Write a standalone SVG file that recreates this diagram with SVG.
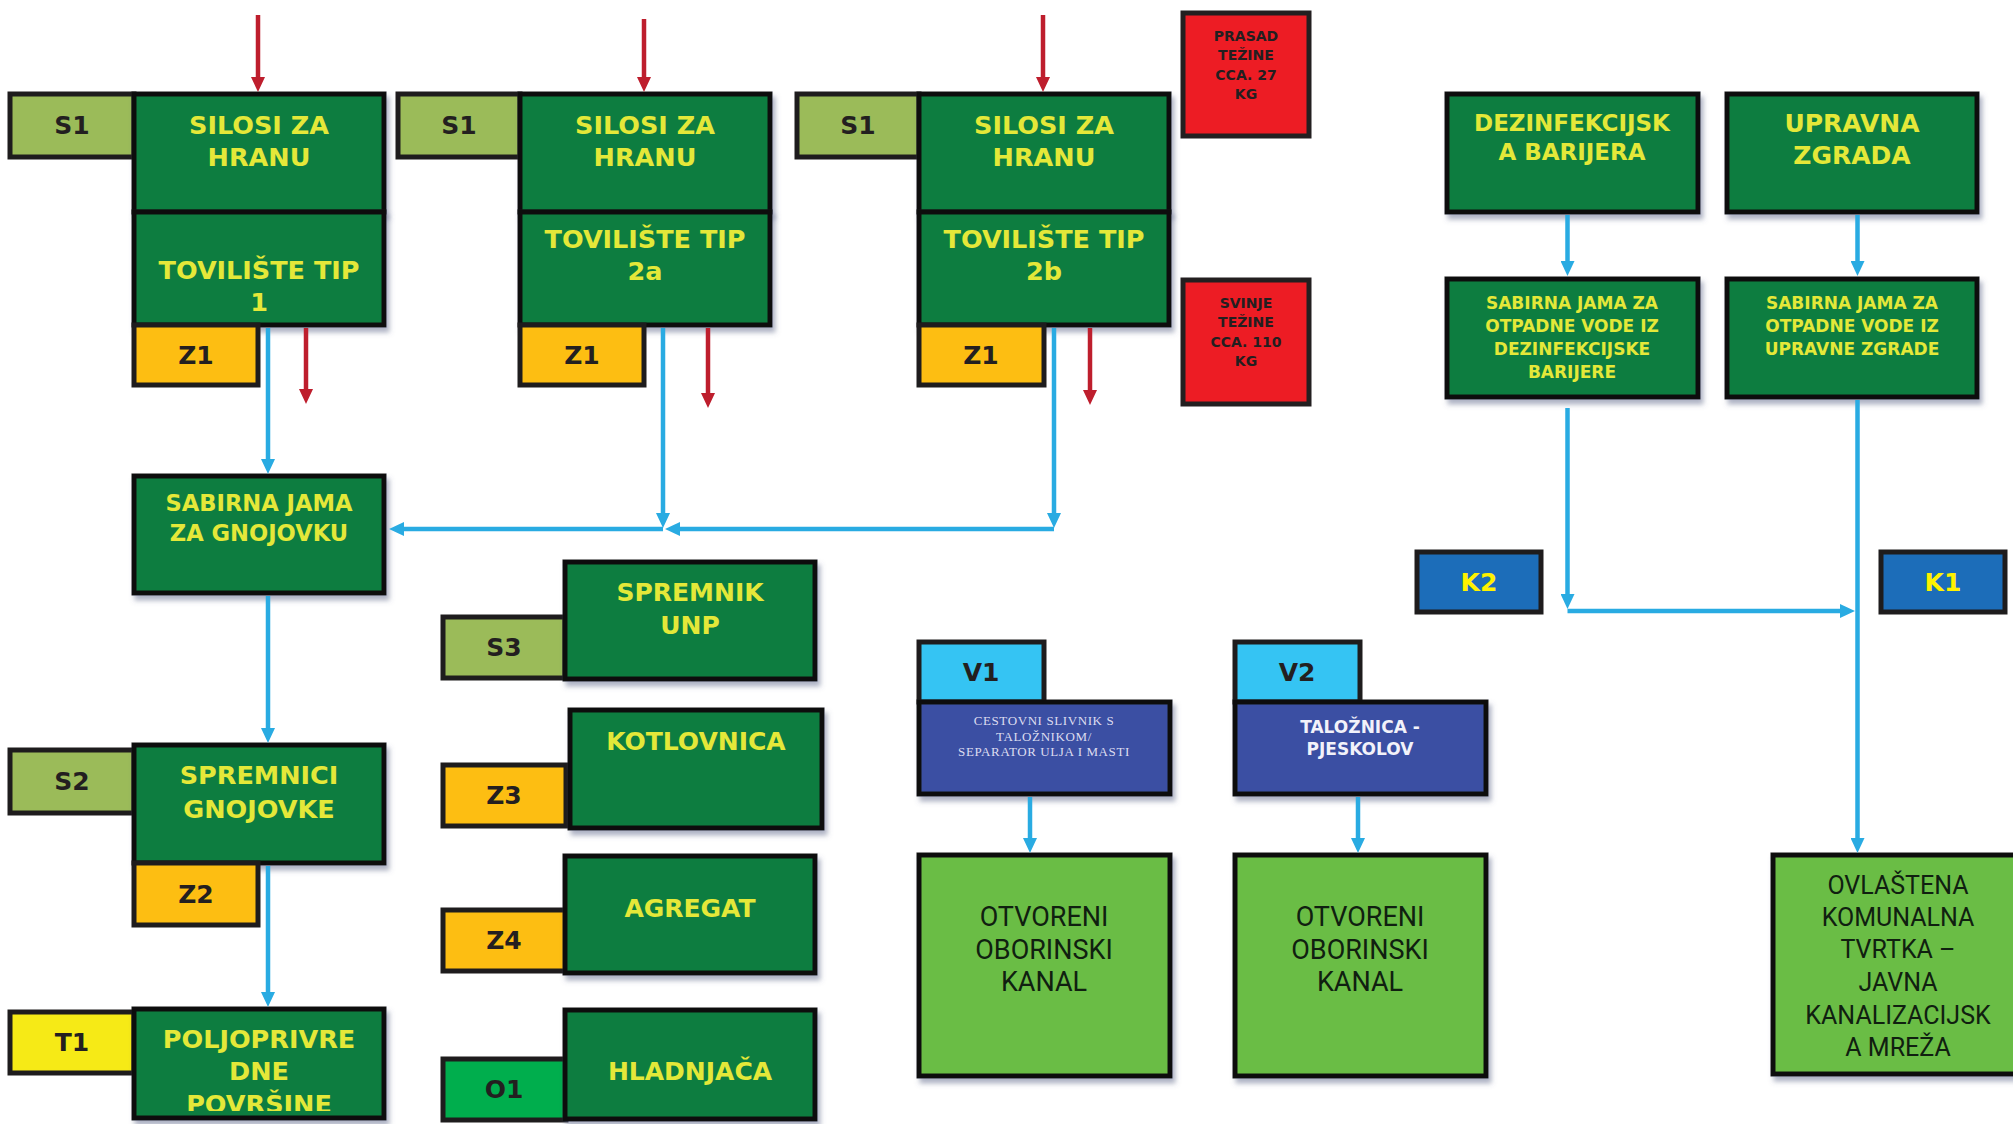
<svg xmlns="http://www.w3.org/2000/svg" width="2013" height="1124" viewBox="0 0 2013 1124">
<defs>
<style>
.g{fill:#0B7D41;stroke:#111;stroke-width:5;filter:url(#sh)}
.lab{stroke:#1E1C1D;stroke-width:5}
.s{fill:#9BBB59}.z{fill:#FDBE12}.ty{fill:#F6EA16}.o{fill:#00AE4D}.v{fill:#35C4F3}.k{fill:#1C6DB9}
.bb{fill:#3A50A3;stroke:#111;stroke-width:5;filter:url(#sh)}
.lgr{fill:#6ABD45;stroke:#111;stroke-width:5;filter:url(#sh)}
.rd{fill:#ED1C24;stroke:#231F20;stroke-width:5}
text{text-anchor:middle}
.t{font-family:"DejaVu Sans",Verdana,sans-serif;font-weight:bold;font-size:25px;fill:#E4E839}
.tb{font-size:25.5px}
.lt{font-family:"DejaVu Sans",Verdana,sans-serif;font-weight:bold;font-size:25px;fill:#231F20}
.kt{font-family:"DejaVu Sans",Verdana,sans-serif;font-weight:bold;font-size:25px;fill:#FFF200}
.rt{font-family:"DejaVu Sans",Verdana,sans-serif;font-weight:bold;font-size:14px;fill:#231F20}
.dt{font-family:Roboto,"Liberation Sans",sans-serif;font-size:27px;fill:#102010}
.wt{font-family:"DejaVu Sans",Verdana,sans-serif;font-weight:bold;font-size:17px;fill:#F2F2FA}
.st{font-family:"Liberation Serif",serif;font-size:13px;fill:#DDDDF0;letter-spacing:0.6px}
.bl{fill:none;stroke:#29ABE2;stroke-width:4.5}
.rl{fill:none;stroke:#BE1E2D;stroke-width:4.5}
</style>
<filter id="sh" x="-5%" y="-5%" width="115%" height="125%">
<feDropShadow dx="3" dy="5" stdDeviation="2.5" flood-color="#5d6689" flood-opacity="0.5"/>
</filter>
<marker id="ab" viewBox="0 0 15 14" refX="6" refY="7" markerWidth="15" markerHeight="14" markerUnits="userSpaceOnUse" orient="auto"><path d="M0,0L15,7L0,14z" fill="#29ABE2"/></marker>
<marker id="ar" viewBox="0 0 15 14" refX="6" refY="7" markerWidth="15" markerHeight="14" markerUnits="userSpaceOnUse" orient="auto"><path d="M0,0L15,7L0,14z" fill="#BE1E2D"/></marker>
<clipPath id="cpP"><rect x="134" y="1009" width="250" height="102"/></clipPath>
</defs>
<rect width="2013" height="1124" fill="#FFFFFF"/>

<!-- Column 1 -->
<g id="s1-a"><rect class="lab s" x="10" y="94" width="124" height="63"/><text class="lt" x="72" y="134">S1</text></g>
<g id="silosi-1"><rect class="g" x="134" y="94" width="250" height="118"/><text class="t tb" x="259" y="134">SILOSI ZA</text><text class="t tb" x="259" y="166">HRANU</text></g>
<g id="toviliste-1"><rect class="g" x="134" y="212" width="250" height="113"/><text class="t tb" x="259" y="279">TOVILIŠTE TIP</text><text class="t tb" x="259" y="311">1</text></g>
<g id="z1-a"><rect class="lab z" x="134" y="325" width="124" height="60"/><text class="lt" x="196" y="364">Z1</text></g>
<g id="sabirna-gnojovka"><rect class="g" x="134" y="476" width="250" height="117"/><text class="t" x="259" y="511" style="font-size:22.6px">SABIRNA JAMA</text><text class="t" x="259" y="541" style="font-size:22.6px">ZA GNOJOVKU</text></g>
<g id="s2"><rect class="lab s" x="10" y="750" width="124" height="63"/><text class="lt" x="72" y="790">S2</text></g>
<g id="spremnici"><rect class="g" x="134" y="745" width="250" height="118"/><text class="t tb" x="259" y="784">SPREMNICI</text><text class="t tb" x="259" y="818">GNOJOVKE</text></g>
<g id="z2"><rect class="lab z" x="134" y="863" width="124" height="62"/><text class="lt" x="196" y="903">Z2</text></g>
<g id="t1"><rect class="lab ty" x="10" y="1012" width="124" height="61"/><text class="lt" x="72" y="1051">T1</text></g>
<g id="poljoprivredne"><rect class="g" x="134" y="1009" width="250" height="109"/><g clip-path="url(#cpP)"><text class="t tb" x="259" y="1048">POLJOPRIVRE</text><text class="t tb" x="259" y="1080">DNE</text><text class="t tb" x="259" y="1113">POVRŠINE</text></g></g>

<!-- Column 2 -->
<g id="s1-b"><rect class="lab s" x="398" y="94" width="122" height="63"/><text class="lt" x="459" y="134">S1</text></g>
<g id="silosi-2"><rect class="g" x="520" y="94" width="250" height="118"/><text class="t tb" x="645" y="134">SILOSI ZA</text><text class="t tb" x="645" y="166">HRANU</text></g>
<g id="toviliste-2a"><rect class="g" x="520" y="212" width="250" height="113"/><text class="t tb" x="645" y="248">TOVILIŠTE TIP</text><text class="t tb" x="645" y="280">2a</text></g>
<g id="z1-b"><rect class="lab z" x="520" y="325" width="124" height="60"/><text class="lt" x="582" y="364">Z1</text></g>

<!-- Column 3 -->
<g id="s1-c"><rect class="lab s" x="797" y="94" width="122" height="63"/><text class="lt" x="858" y="134">S1</text></g>
<g id="silosi-3"><rect class="g" x="919" y="94" width="250" height="118"/><text class="t tb" x="1044" y="134">SILOSI ZA</text><text class="t tb" x="1044" y="166">HRANU</text></g>
<g id="toviliste-2b"><rect class="g" x="919" y="212" width="250" height="113"/><text class="t tb" x="1044" y="248">TOVILIŠTE TIP</text><text class="t tb" x="1044" y="280">2b</text></g>
<g id="z1-c"><rect class="lab z" x="919" y="325" width="125" height="60"/><text class="lt" x="981" y="364">Z1</text></g>
<g id="prasad"><rect class="rd" x="1183" y="13" width="126" height="123"/><text class="rt" x="1246" y="41">PRASAD</text><text class="rt" x="1246" y="60">TEŽINE</text><text class="rt" x="1246" y="80">CCA. 27</text><text class="rt" x="1246" y="99">KG</text></g>
<g id="svinje"><rect class="rd" x="1183" y="280" width="126" height="124"/><text class="rt" x="1246" y="308">SVINJE</text><text class="rt" x="1246" y="327">TEŽINE</text><text class="rt" x="1246" y="347">CCA. 110</text><text class="rt" x="1246" y="366">KG</text></g>

<!-- Middle column -->
<g id="s3"><rect class="lab s" x="443" y="617" width="122" height="61"/><text class="lt" x="504" y="656">S3</text></g>
<g id="spremnik-unp"><rect class="g" x="565" y="562" width="250" height="117"/><text class="t" x="690" y="601">SPREMNIK</text><text class="t" x="690" y="634">UNP</text></g>
<g id="z3"><rect class="lab z" x="443" y="765" width="123" height="61"/><text class="lt" x="504" y="804">Z3</text></g>
<g id="kotlovnica"><rect class="g" x="570" y="710" width="252" height="118"/><text class="t" x="696" y="750">KOTLOVNICA</text></g>
<g id="z4"><rect class="lab z" x="443" y="910" width="123" height="61"/><text class="lt" x="504" y="949">Z4</text></g>
<g id="agregat"><rect class="g" x="565" y="856" width="250" height="117"/><text class="t" x="690" y="917">AGREGAT</text></g>
<g id="o1"><rect class="lab o" x="443" y="1059" width="123" height="61"/><text class="lt" x="504" y="1098">O1</text></g>
<g id="hladnjaca"><rect class="g" x="565" y="1010" width="250" height="109"/><text class="t" x="690" y="1080">HLADNJAČA</text></g>

<!-- V1 / V2 -->
<g id="v1"><rect class="lab v" x="919" y="642" width="125" height="60"/><text class="lt" x="981" y="681">V1</text></g>
<g id="cestovni"><rect class="bb" x="919" y="702" width="251" height="92"/><text class="st" x="1044" y="725">CESTOVNI SLIVNIK S</text><text class="st" x="1044" y="741">TALOŽNIKOM/</text><text class="st" x="1044" y="756">SEPARATOR ULJA I MASTI</text></g>
<g id="otvoreni-1"><rect class="lgr" x="919" y="855" width="251" height="221"/><text class="dt" x="1044" y="926">OTVORENI</text><text class="dt" x="1044" y="959">OBORINSKI</text><text class="dt" x="1044" y="991">KANAL</text></g>
<g id="v2"><rect class="lab v" x="1235" y="642" width="125" height="60"/><text class="lt" x="1297" y="681">V2</text></g>
<g id="taloznica"><rect class="bb" x="1235" y="702" width="251" height="92"/><text class="wt" x="1360" y="733">TALOŽNICA -</text><text class="wt" x="1360" y="755">PJESKOLOV</text></g>
<g id="otvoreni-2"><rect class="lgr" x="1235" y="855" width="251" height="221"/><text class="dt" x="1360" y="926">OTVORENI</text><text class="dt" x="1360" y="959">OBORINSKI</text><text class="dt" x="1360" y="991">KANAL</text></g>

<!-- Right -->
<g id="dezinfekcijska"><rect class="g" x="1447" y="94" width="251" height="118"/><text class="t" x="1572" y="131" style="font-size:23px">DEZINFEKCIJSK</text><text class="t" x="1572" y="160" style="font-size:23px">A BARIJERA</text></g>
<g id="upravna"><rect class="g" x="1727" y="94" width="250" height="118"/><text class="t" x="1852" y="132">UPRAVNA</text><text class="t" x="1852" y="164">ZGRADA</text></g>
<g id="sabirna-dez"><rect class="g" x="1447" y="279" width="251" height="118"/><text class="t" x="1572" y="309" style="font-size:17px">SABIRNA JAMA ZA</text><text class="t" x="1572" y="332" style="font-size:17px">OTPADNE VODE IZ</text><text class="t" x="1572" y="355" style="font-size:17px">DEZINFEKCIJSKE</text><text class="t" x="1572" y="378" style="font-size:17px">BARIJERE</text></g>
<g id="sabirna-upr"><rect class="g" x="1727" y="279" width="250" height="118"/><text class="t" x="1852" y="309" style="font-size:17px">SABIRNA JAMA ZA</text><text class="t" x="1852" y="332" style="font-size:17px">OTPADNE VODE IZ</text><text class="t" x="1852" y="355" style="font-size:17px">UPRAVNE ZGRADE</text></g>
<g id="k2"><rect class="lab k" x="1417" y="552" width="124" height="60"/><text class="kt" x="1479" y="591">K2</text></g>
<g id="k1"><rect class="lab k" x="1881" y="552" width="124" height="60"/><text class="kt" x="1943" y="591">K1</text></g>
<g id="ovlastena"><rect class="lgr" x="1773" y="855" width="260" height="219"/><text class="dt" x="1898" y="894" style="font-size:25px">OVLAŠTENA</text><text class="dt" x="1898" y="926" style="font-size:25px">KOMUNALNA</text><text class="dt" x="1898" y="958" style="font-size:25px">TVRTKA –</text><text class="dt" x="1898" y="991" style="font-size:25px">JAVNA</text><text class="dt" x="1898" y="1024" style="font-size:25px">KANALIZACIJSK</text><text class="dt" x="1898" y="1056" style="font-size:25px">A MREŽA</text></g>

<!-- Connectors -->
<g id="connectors">
<path class="bl" marker-end="url(#ab)" d="M268,328V465"/>
<path class="bl" marker-end="url(#ab)" d="M268,596V734"/>
<path class="bl" marker-end="url(#ab)" d="M268,866V998"/>
<path class="bl" marker-end="url(#ab)" d="M663,328V519"/>
<path class="bl" marker-end="url(#ab)" d="M663,529H398"/>
<path class="bl" marker-end="url(#ab)" d="M1054,328V519"/>
<path class="bl" marker-end="url(#ab)" d="M1054,529H674"/>
<path class="bl" marker-end="url(#ab)" d="M1567.5,215V267"/>
<path class="bl" marker-end="url(#ab)" d="M1857.5,215V267"/>
<path class="bl" marker-end="url(#ab)" d="M1567.5,408V600"/>
<path class="bl" marker-end="url(#ab)" d="M1567.5,611H1846"/>
<path class="bl" marker-end="url(#ab)" d="M1857.5,400V844"/>
<path class="bl" marker-end="url(#ab)" d="M1030,797V844"/>
<path class="bl" marker-end="url(#ab)" d="M1358,797V844"/>
<path class="rl" marker-end="url(#ar)" d="M258,15V83"/>
<path class="rl" marker-end="url(#ar)" d="M644,19V83"/>
<path class="rl" marker-end="url(#ar)" d="M1043,15V83"/>
<path class="rl" marker-end="url(#ar)" d="M306,328V395"/>
<path class="rl" marker-end="url(#ar)" d="M708,328V399"/>
<path class="rl" marker-end="url(#ar)" d="M1090,328V396"/>
</g>
</svg>
